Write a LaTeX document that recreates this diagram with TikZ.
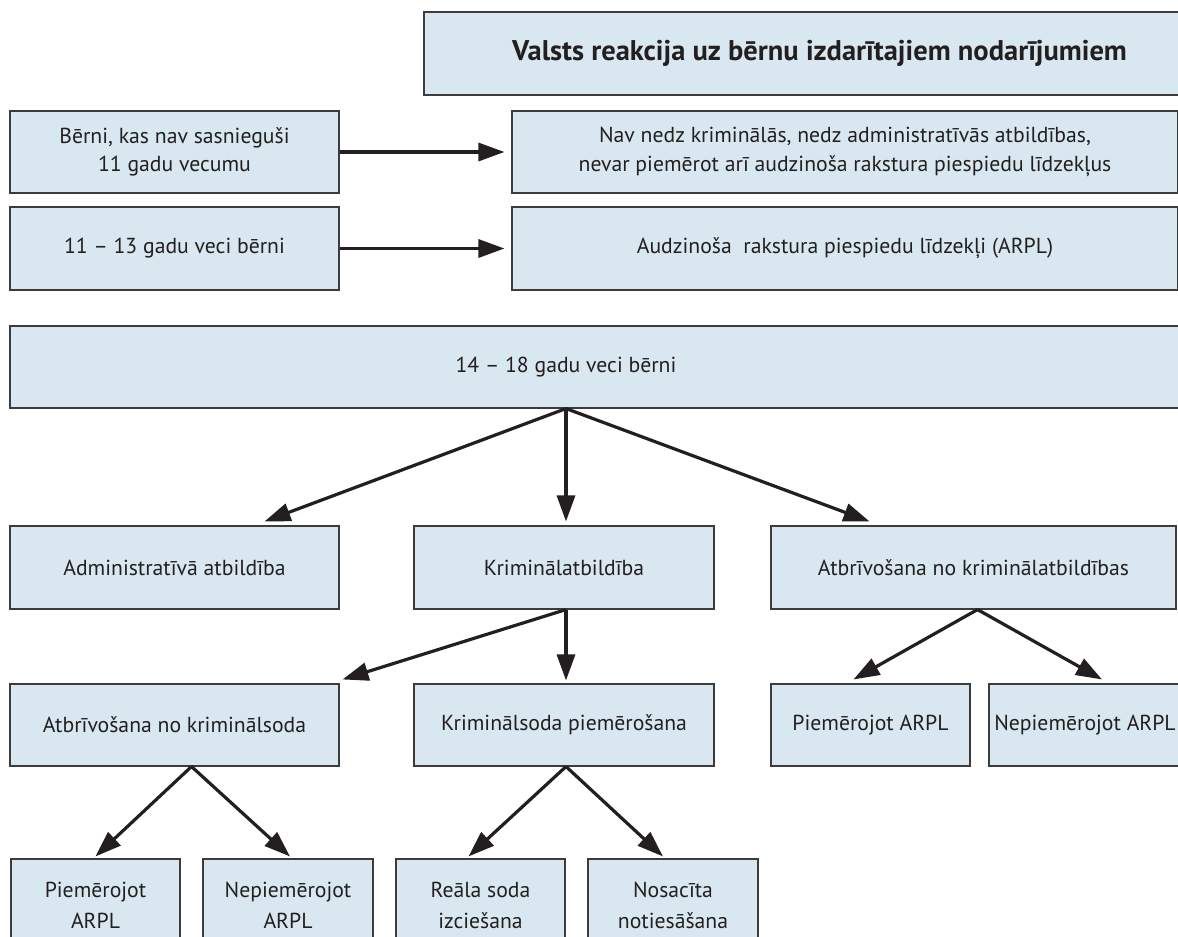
\documentclass[tikz,border=0pt]{standalone}
\usepackage{fontspec}
\setmainfont{PT Sans}
\usetikzlibrary{arrows.meta,calc}
\definecolor{boxfill}{HTML}{D9E8F0}
\definecolor{boxline}{HTML}{3C3C3C}
\definecolor{arr}{HTML}{231F20}
\tikzset{
  box/.style={draw=boxline, fill=boxfill, line width=1.1pt, inner sep=0pt, align=center, text=arr, font=\fontsize{21.7}{28.5}\selectfont},
  conn/.style={draw=arr, line width=3.2pt, -{Triangle[length=26pt,width=18pt]}},
  plain/.style={inner sep=0pt, align=center, text=arr, font=\fontsize{21.7}{28.5}\selectfont}
}
\begin{document}
\begin{tikzpicture}[x=1pt,y=-1pt]
\useasboundingbox (0,0) rectangle (1178,937);
\clip (0,0) rectangle (1178,937);
\fill[white] (0,0) rectangle (1178,937);
% title
\node[box, minimum width=791pt, minimum height=83pt, font=\fontsize{28.5}{32}\selectfont\bfseries] (title) at (819.5,53.5) {Valsts reakcija uz bērnu izdarītajiem nodarījumiem};
% rows 1-2
\node[box, minimum width=329pt, minimum height=82pt] (a) at (174.5,152) {Bērni, kas nav sasnieguši\\11 gadu vecumu};
\node[box, minimum width=666pt, minimum height=82pt] (b) at (845,152) {Nav nedz kriminālās, nedz administratīvās atbildības,\\nevar piemērot arī audzinoša rakstura piespiedu līdzekļus};
\node[box, minimum width=329pt, minimum height=83pt] (c) at (174.5,248.5) {11 – 13 gadu veci bērni};
\node[box, minimum width=666pt, minimum height=83pt] (d) at (845,248.5) {Audzinoša\ \ rakstura piespiedu līdzekļi (ARPL)};
% 14-18
\node[box, minimum width=1190pt, minimum height=82pt] (e) at (605,367) {};
\node[plain] (etext) at (566,367) {14 – 18 gadu veci bērni};
% row 3
\node[box, minimum width=329pt, minimum height=83pt] (adm) at (174.5,567.5) {Administratīvā atbildība};
\node[box, minimum width=300pt, minimum height=83pt] (krim) at (564,567.5) {Kriminālatbildība};
\node[box, minimum width=405pt, minimum height=83pt] (atbr) at (973.5,567.5) {Atbrīvošana no kriminālatbildības};
% row 4
\node[box, minimum width=329pt, minimum height=82pt] (asoda) at (174.5,725) {Atbrīvošana no kriminālsoda};
\node[box, minimum width=300pt, minimum height=82pt] (ksoda) at (564,725) {Kriminālsoda piemērošana};
\node[box, minimum width=199pt, minimum height=82pt] (piem) at (870.5,725) {Piemērojot ARPL};
\node[box, minimum width=192pt, minimum height=82pt] (nepiem) at (1085,725) {Nepiemērojot ARPL};
% row 5
\node[box, minimum width=169pt, minimum height=92pt, font=\fontsize{21.7}{31}\selectfont] (r1) at (95.5,905) {Piemērojot\\ARPL};
\node[box, minimum width=170pt, minimum height=92pt, font=\fontsize{21.7}{31}\selectfont] (r2) at (288,905) {Nepiemērojot\\ARPL};
\node[box, minimum width=169pt, minimum height=92pt, font=\fontsize{21.7}{31}\selectfont] (r3) at (480.5,905) {Reāla soda\\izciešana};
\node[box, minimum width=170pt, minimum height=92pt, font=\fontsize{21.7}{31}\selectfont] (r4) at (673,905) {Nosacīta\\notiesāšana};
% connectors
\draw[conn, shorten >=7pt] (a.east) -- (b.west);
\draw[conn, shorten >=7pt] (c.east) -- (d.west);
\draw[conn] (etext |- e.south) -- ([xshift=90pt,yshift=4pt]adm.north);
\draw[conn] (etext |- e.south) -- ([xshift=2pt,yshift=4pt]krim.north);
\draw[conn] (etext |- e.south) -- ([xshift=-104pt,yshift=4pt]atbr.north);
\draw[conn] ([xshift=2pt]krim.south) -- ([xshift=3pt,yshift=4pt]asoda.north east);
\draw[conn] ([xshift=2pt]krim.south) -- ([xshift=2pt,yshift=3pt]ksoda.north);
\draw[conn] ([xshift=4pt]atbr.south) -- ([xshift=-17pt,yshift=4pt]piem.north);
\draw[conn] ([xshift=4pt]atbr.south) -- ([xshift=17pt,yshift=4pt]nepiem.north);
\draw[conn] ([xshift=17pt]asoda.south) -- ([xshift=0pt,yshift=2pt]r1.north);
\draw[conn] ([xshift=17pt]asoda.south) -- ([xshift=2pt,yshift=2pt]r2.north);
\draw[conn] ([xshift=2pt]ksoda.south) -- ([xshift=-12pt,yshift=2pt]r3.north);
\draw[conn] ([xshift=2pt]ksoda.south) -- ([xshift=-10pt,yshift=2pt]r4.north);
\end{tikzpicture}
\end{document}
